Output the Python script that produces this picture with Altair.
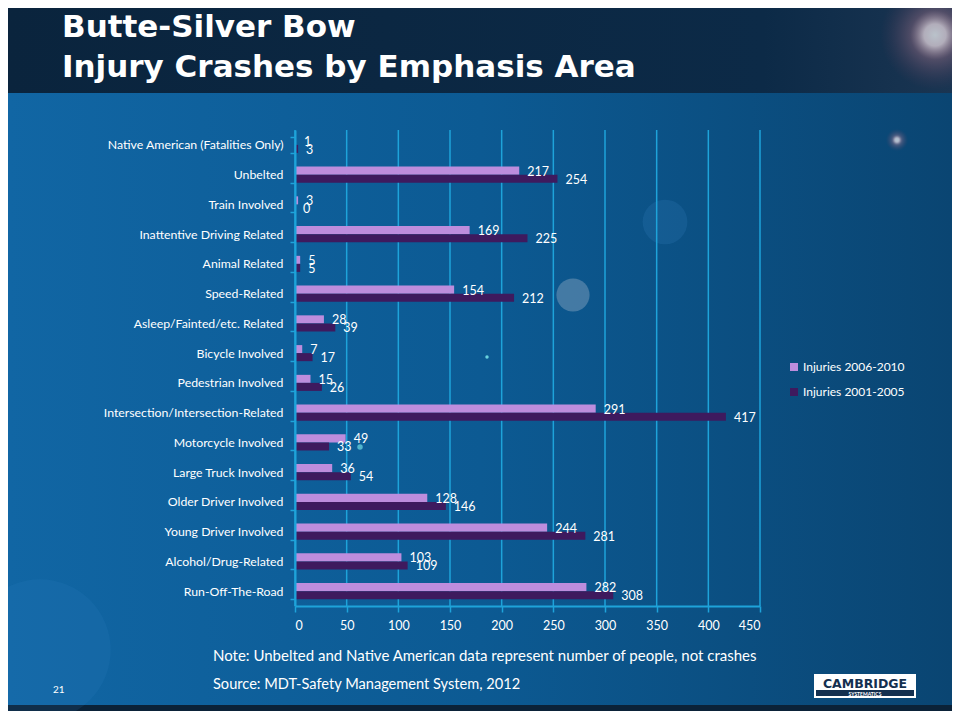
import altair as alt
import pandas as pd

categories = [
    "Native American (Fatalities Only)", "Unbelted", "Train Involved",
    "Inattentive Driving Related", "Animal Related", "Speed-Related",
    "Asleep/Fainted/etc. Related", "Bicycle Involved", "Pedestrian Involved",
    "Intersection/Intersection-Related", "Motorcycle Involved",
    "Large Truck Involved", "Older Driver Involved", "Young Driver Involved",
    "Alcohol/Drug-Related", "Run-Off-The-Road",
]
injuries_2006_2010 = [1, 217, 3, 169, 5, 154, 28, 7, 15, 291, 49, 36, 128, 244, 103, 282]
injuries_2001_2005 = [3, 254, 0, 225, 5, 212, 39, 17, 26, 417, 33, 54, 146, 281, 109, 308]
series = ["Injuries 2006-2010", "Injuries 2001-2005"]
x_ticks = [0, 50, 100, 150, 200, 250, 300, 350, 400, 450]

title_lines = ["Butte-Silver Bow", "Injury Crashes by Emphasis Area"]
note_text = "Note:  Unbelted and Native American data represent number of people, not crashes"
source_text = "Source: MDT-Safety Management System,  2012"
page_number = "21"

rows = []
for c, a, b in zip(categories, injuries_2006_2010, injuries_2001_2005):
    rows.append({"category": c, "series": series[0], "value": a})
    rows.append({"category": c, "series": series[1], "value": b})
df = pd.DataFrame(rows)
ticks_df = pd.DataFrame({"value": x_ticks})
dummy = pd.DataFrame({"d": [0]})

FONT = "Lato"
TFONT = "DejaVu Sans"
W, H = 465, 476
PL, PT = 287, 122          # plot origin offset inside chart
CW, CH = 944, 703          # whole chart size

GRID = "#1ea3da"
LILAC = "#bd8ddd"
DARK = "#3e1a5e"

xscale = alt.Scale(domain=[0, 450], nice=False, zero=True)
yscale = alt.Scale(domain=categories, paddingInner=0.46, paddingOuter=0.23)
yoff = alt.Scale(domain=series, paddingInner=0, paddingOuter=0)

x_axis = alt.Axis(values=x_ticks, grid=False, domainColor=GRID, domainWidth=2,
                  tickColor=GRID, tickWidth=1.5, tickSize=6, labelColor="white",
                  labelFont=FONT, labelFontSize=12.5, labelPadding=7, zindex=1,
                  title=None)

def rect(x0, y0, x1, y1, color, opacity=1.0):
    return alt.Chart(dummy).mark_rect(color=color, opacity=opacity).encode(
        x=alt.value(x0 - 8 - PL), x2=alt.value(x1 - 8 - PL),
        y=alt.value(y0 - 8 - PT), y2=alt.value(y1 - 8 - PT))

def dot(cx, cy, size, color, opacity=1.0):
    return alt.Chart(dummy).mark_circle(color=color, opacity=opacity, size=size).encode(
        x=alt.value(cx - 8 - PL), y=alt.value(cy - 8 - PT))

def txt(s, x, y, size, bold=False, color="white", align="left", font=FONT):
    return alt.Chart(dummy).mark_text(
        text=s, font=font, fontSize=size, fontWeight="bold" if bold else "normal",
        color=color, align=align, baseline="alphabetic").encode(
        x=alt.value(x - 8 - PL), y=alt.value(y - 8 - PT))

main_grad = alt.LinearGradient(
    gradient="linear", x1=0, x2=1, y1=0, y2=0,
    stops=[alt.GradientStop(color="#1166a4", offset=0),
           alt.GradientStop(color="#0c5a93", offset=0.5),
           alt.GradientStop(color="#0a4572", offset=1)])
top_grad = alt.LinearGradient(
    gradient="linear", x1=0, x2=1, y1=0, y2=0,
    stops=[alt.GradientStop(color="#0a243d", offset=0),
           alt.GradientStop(color="#0c2a47", offset=0.8),
           alt.GradientStop(color="#1a3552", offset=1)])
flare = alt.RadialGradient(
    gradient="radial", x1=0.5, y1=0.5, r1=0, x2=0.5, y2=0.5, r2=0.5,
    stops=[alt.GradientStop(color="rgba(255,255,255,1)", offset=0),
           alt.GradientStop(color="rgba(255,235,240,0.95)", offset=0.2),
           alt.GradientStop(color="rgba(200,130,150,0.45)", offset=0.45),
           alt.GradientStop(color="rgba(120,60,90,0)", offset=1)])

bg_layers = [
    rect(8, 93, 952, 705, main_grad),
    rect(8, 8, 952, 93, top_grad),
    dot(40, 650, 20000, "#3a8fd0", 0.12),
    dot(573, 295, 1100, "#8aa6c0", 0.45),
    dot(665, 222, 2000, "#2a75b0", 0.3),
    dot(487, 357, 12, "#7ff0f0", 0.8),
    dot(360, 447, 30, "#7ff0f0", 0.6),
    alt.Chart(dummy).mark_circle(color=flare, size=12000).encode(
        x=alt.value(935 - 8 - PL), y=alt.value(35 - 8 - PT)),
    alt.Chart(dummy).mark_circle(color=flare, size=500).encode(
        x=alt.value(897 - 8 - PL), y=alt.value(140 - 8 - PT)),
]

grid = alt.Chart(ticks_df).mark_rule(color=GRID, strokeWidth=1.5).encode(
    x=alt.X("value:Q", scale=xscale, axis=x_axis, title=None))

bars = alt.Chart(df).mark_bar().encode(
    x=alt.X("value:Q", scale=xscale, title=None, axis=x_axis),
    y=alt.Y("category:N", scale=yscale, sort=categories, title=None,
            axis=alt.Axis(domainColor=GRID, domainWidth=2, tickColor=GRID, tickWidth=1.5,
                          tickSize=5, tickBand="extent", labelColor="white", labelFont=FONT,
                          labelFontSize=12.3, labelPadding=7, labelLimit=0, zindex=1)),
    yOffset=alt.YOffset("series:N", scale=yoff, sort=series),
    color=alt.Color("series:N", sort=series,
                    scale=alt.Scale(domain=series, range=[LILAC, DARK]),
                    legend=alt.Legend(title=None, orient="none", legendX=493, legendY=231,
                                      symbolType="square", symbolSize=64,
                                      symbolStrokeWidth=0, labelColor="white",
                                      labelFont=FONT, labelFontSize=12, labelOffset=3,
                                      rowPadding=13, padding=0)),
)

labels = alt.Chart(df).mark_text(
    align="left", baseline="middle", dx=8, dy=1, color="white",
    font=FONT, fontSize=12.5).encode(
    x=alt.X("value:Q", scale=xscale),
    y=alt.Y("category:N", scale=yscale, sort=categories),
    yOffset=alt.YOffset("series:N", scale=yoff, sort=series),
    text="value:Q",
)

fg_layers = [
    txt(title_lines[0], 62, 37, 31, bold=True, font=TFONT),
    txt(title_lines[1], 62, 77, 31, bold=True, font=TFONT),
    txt(note_text, 213, 661, 15),
    txt(source_text, 213, 689, 14.6),
    txt(page_number, 53, 693, 10),
    rect(814, 674, 916, 698, "white"),
    txt("CAMBRIDGE", 865, 688, 12.5, bold=True, color="#14304f", align="center",
        font="DejaVu Sans"),
    rect(816, 690, 914, 696, "#14304f"),
    txt("SYSTEMATICS", 865, 695.5, 5, bold=True, color="white", align="center"),
]

chart = alt.layer(*bg_layers, grid, bars, labels, *fg_layers).properties(
    width=W, height=H,
    autosize=alt.AutoSizeParams(type="none"),
    padding={"left": PL, "top": PT, "right": CW - PL - W, "bottom": CH - PT - H},
    background="#0b2238",
).configure_view(stroke=None).resolve_scale(x="shared", y="shared")

chart.save("out.html", embed_options={"renderer": "svg", "actions": False})
